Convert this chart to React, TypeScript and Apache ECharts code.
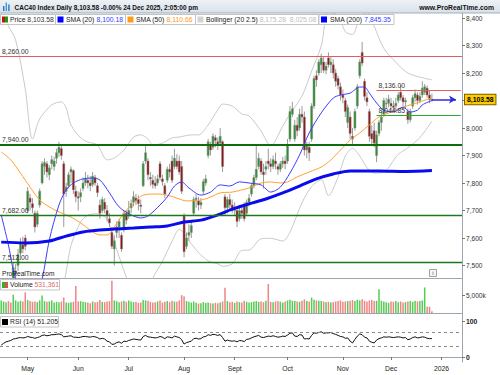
import React, { useEffect, useRef } from 'react';
import * as echarts from 'echarts';

const FONT = '"Liberation Sans", Arial, Helvetica, sans-serif';

// ---------- sessions (Euronext Paris) ----------
const FIRST_SESSION = '2025-04-14';
const SESSION_COUNT = 192; // 180 traded sessions + empty space to the right
const HOLIDAYS = ['2025-04-18', '2025-04-21', '2025-05-01', '2025-12-25', '2025-12-26', '2026-01-01'];

function buildSessions(): string[] {
  const out: string[] = [];
  const d = new Date(FIRST_SESSION + 'T00:00:00Z');
  while (out.length < SESSION_COUNT) {
    const wd = d.getUTCDay();
    const s = d.toISOString().slice(0, 10);
    if (wd !== 0 && wd !== 6 && HOLIDAYS.indexOf(s) < 0) out.push(s);
    d.setUTCDate(d.getUTCDate() + 1);
  }
  return out;
}
const categories = buildSessions();

const monthTickDates = ['2025-05-02', '2025-06-02', '2025-07-01', '2025-08-01', '2025-09-01', '2025-10-01', '2025-11-03', '2025-12-01', '2026-01-02'];
const monthTickLabels = ['May', 'Jun', 'Jul', 'Aug', 'Sept', 'Oct', 'Nov', 'Dec', '2026'];

const priceTicks = [7500, 7600, 7700, 7800, 7900, 8000, 8100, 8200, 8300, 8400];
// 8,100 is covered by the last-price tag in the reference
const priceLabels = [7500, 7600, 7700, 7800, 7900, 8000, 8200, 8300, 8400];
const volumeTicks = [5000];
const rsiTicks = [0, 100];

// ---------- daily candles [open, high, low, close] ----------
const candlesApr = [
  [7240, 7300, 7200, 7273], [7290, 7350, 7270, 7335], [7320, 7360, 7250, 7330], [7340, 7380, 7270, 7286],
  [7300, 7330, 7230, 7276], [7420, 7510, 7400, 7492], [7470, 7505, 7440, 7480], [7500, 7560, 7480, 7540],
  [7545, 7600, 7520, 7585], [7575, 7605, 7545, 7560], [7600, 7612, 7555, 7570],
];
const candlesMay = [
  [7700, 7785, 7690, 7770], [7745, 7760, 7700, 7730], [7725, 7745, 7690, 7710], [7690, 7700, 7620, 7640],
  [7650, 7700, 7640, 7690], [7720, 7780, 7710, 7770], [7800, 7880, 7795, 7870], [7860, 7890, 7830, 7875],
  [7870, 7880, 7820, 7840], [7830, 7865, 7810, 7855], [7870, 7900, 7850, 7885], [7860, 7895, 7845, 7880],
  [7890, 7925, 7870, 7910], [7910, 7950, 7895, 7930], [7925, 7935, 7885, 7900], [7870, 7880, 7640, 7760],
  [7770, 7800, 7750, 7785], [7790, 7840, 7780, 7830], [7840, 7860, 7800, 7850], [7845, 7850, 7760, 7775],
  [7770, 7790, 7730, 7750],
];
const candlesJun = [
  [7750, 7770, 7700, 7745], [7750, 7780, 7730, 7765], [7780, 7820, 7770, 7800], [7800, 7840, 7790, 7815],
  [7810, 7830, 7780, 7800], [7800, 7825, 7770, 7790], [7795, 7840, 7785, 7825], [7820, 7830, 7790, 7800],
  [7790, 7800, 7750, 7765], [7720, 7740, 7670, 7690], [7700, 7750, 7690, 7740], [7730, 7745, 7690, 7705],
  [7700, 7720, 7660, 7680], [7670, 7690, 7640, 7655], [7620, 7640, 7560, 7570], [7560, 7610, 7500, 7590],
  [7620, 7660, 7600, 7640], [7640, 7670, 7600, 7660], [7610, 7620, 7550, 7560], [7630, 7700, 7620, 7690],
  [7690, 7700, 7650, 7665],
];
const candlesJul = [
  [7680, 7735, 7670, 7700], [7710, 7740, 7690, 7725], [7730, 7770, 7715, 7750], [7745, 7760, 7720, 7735],
  [7740, 7755, 7700, 7725], [7720, 7740, 7690, 7715], [7790, 7880, 7785, 7870], [7880, 7940, 7870, 7910],
  [7880, 7890, 7810, 7830], [7820, 7840, 7790, 7815], [7810, 7830, 7780, 7795], [7800, 7825, 7780, 7790],
  [7800, 7830, 7790, 7815], [7870, 7880, 7810, 7820], [7815, 7830, 7790, 7805], [7790, 7800, 7745, 7760],
  [7810, 7860, 7800, 7850], [7850, 7870, 7820, 7840], [7880, 7900, 7800, 7810], [7860, 7925, 7850, 7890],
  [7880, 7905, 7850, 7860], [7880, 7900, 7830, 7840], [7860, 7880, 7760, 7770],
];
const candlesAug = [
  [7680, 7690, 7530, 7550], [7570, 7620, 7560, 7600], [7610, 7650, 7590, 7620], [7620, 7660, 7600, 7645],
  [7690, 7750, 7680, 7740], [7740, 7760, 7710, 7745], [7735, 7750, 7700, 7720], [7720, 7745, 7705, 7730],
  [7770, 7815, 7760, 7805], [7800, 7830, 7790, 7815], [7900, 7960, 7890, 7950], [7940, 7950, 7900, 7920],
  [7930, 7980, 7920, 7970], [7965, 7975, 7930, 7955], [7950, 7965, 7920, 7940], [7945, 8000, 7935, 7970],
  [7950, 7955, 7840, 7860], [7750, 7760, 7680, 7710], [7710, 7750, 7690, 7740], [7740, 7760, 7700, 7720],
  [7720, 7740, 7690, 7700],
];
const candlesSep = [
  [7700, 7730, 7680, 7710], [7700, 7710, 7640, 7660], [7670, 7720, 7660, 7700], [7700, 7715, 7670, 7690],
  [7720, 7730, 7660, 7670], [7690, 7740, 7680, 7730], [7730, 7760, 7715, 7745], [7760, 7800, 7750, 7790],
  [7790, 7830, 7780, 7820], [7820, 7935, 7810, 7850], [7860, 7910, 7850, 7890], [7880, 7890, 7830, 7840],
  [7840, 7870, 7780, 7830], [7850, 7880, 7830, 7860], [7880, 7925, 7850, 7870], [7870, 7890, 7840, 7860],
  [7860, 7900, 7850, 7885], [7880, 7910, 7850, 7870], [7860, 7870, 7830, 7850], [7850, 7880, 7840, 7870],
  [7870, 7895, 7855, 7880], [7880, 7900, 7850, 7870],
];
const candlesOct = [
  [7880, 7960, 7870, 7940], [7960, 8080, 7950, 8060], [8050, 8095, 8040, 8070], [7960, 8030, 7950, 8010],
  [8010, 8040, 7970, 7990], [8000, 8070, 7990, 8050], [8050, 8080, 8020, 8040], [8040, 8060, 7900, 7920],
  [7920, 7950, 7890, 7935], [7930, 7950, 7880, 7910], [7960, 8090, 7950, 8080], [8080, 8190, 8070, 8180],
  [8190, 8210, 8150, 8175], [8200, 8250, 8190, 8240], [8230, 8270, 8200, 8255], [8240, 8260, 8200, 8210],
  [8210, 8240, 8195, 8225], [8255, 8275, 8220, 8230], [8230, 8260, 8200, 8240], [8230, 8250, 8180, 8200],
  [8200, 8215, 8150, 8170], [8180, 8190, 8140, 8155], [8150, 8165, 8100, 8120],
];
const candlesNov = [
  [8120, 8140, 8090, 8110], [8100, 8110, 8040, 8060], [8020, 8085, 8000, 8075], [8040, 8060, 7960, 7980],
  [7970, 8000, 7940, 7960], [8000, 8070, 7990, 8060], [8080, 8160, 8070, 8150], [8190, 8250, 8180, 8240],
  [8275, 8313, 8225, 8236], [8170, 8180, 8100, 8115], [8110, 8130, 8080, 8095], [8060, 8070, 7950, 7970],
  [7980, 8010, 7940, 7960], [7990, 8020, 7930, 7945], [7900, 7990, 7876, 7975], [7980, 8030, 7970, 8020],
  [8020, 8060, 7990, 8040], [8050, 8110, 8040, 8100], [8090, 8110, 8070, 8090], [8090, 8120, 8075, 8105],
];
const candlesDec = [
  [8090, 8110, 8060, 8080], [8080, 8100, 8060, 8075], [8080, 8110, 8060, 8090], [8100, 8130, 8090, 8120],
  [8130, 8156, 8100, 8110], [8110, 8120, 8080, 8095], [8095, 8110, 8070, 8100], [8060, 8070, 8015, 8030],
  [8030, 8070, 8020, 8060], [8080, 8120, 8070, 8110], [8110, 8140, 8095, 8125], [8120, 8130, 8085, 8100],
  [8100, 8130, 8090, 8115], [8120, 8170, 8110, 8145], [8130, 8160, 8120, 8150], [8145, 8155, 8110, 8120],
  [8120, 8135, 8090, 8104], [8104, 8125, 8095, 8103.58],
];
const candles = [
  ...candlesApr, ...candlesMay, ...candlesJun, ...candlesJul, ...candlesAug,
  ...candlesSep, ...candlesOct, ...candlesNov, ...candlesDec,
];

// ---------- volume (thousands) ----------
const volApr = [3600, 3300, 3100, 3400, 3000, 5200, 3600, 3200, 3500, 3300, 5900];
const volMay = [3700, 3400, 3200, 3300, 3100, 3600, 5000, 3400, 3200, 3300, 3600, 3000, 3200, 3100, 3300, 4400, 3000, 2900, 3100, 3200, 7700];
const volJun = [3300, 3400, 3200, 3100, 3000, 2800, 3300, 3100, 3200, 3700, 3200, 3100, 3300, 3400, 9200, 3600, 3400, 3100, 3300, 3500, 3200];
const volJul = [3600, 3300, 3100, 3200, 2900, 3000, 3700, 3600, 3500, 3200, 3000, 3100, 3300, 3600, 3000, 3200, 3400, 3100, 3500, 3300, 3200, 3600, 5100];
const volAug = [4800, 3400, 3200, 3000, 3300, 2900, 2700, 2800, 3100, 2900, 3000, 2800, 2700, 2900, 2800, 3000, 3300, 7200, 3400, 3100, 3200];
const volSep = [2900, 3300, 3100, 3000, 3500, 3200, 3000, 3100, 3300, 3400, 3200, 3300, 3100, 3500, 8300, 3200, 3100, 3300, 3400, 3200, 3000, 3300];
const volOct = [3600, 3800, 3500, 3400, 3300, 3200, 3500, 3900, 3400, 3300, 4400, 3800, 3600, 3500, 3400, 3300, 3100, 3200, 3000, 3100, 3300, 3400, 3600];
const volNov = [3200, 3300, 3400, 3500, 3700, 3400, 3800, 3600, 3900, 3500, 3300, 3600, 3700, 3400, 3500, 6800, 3500, 3300, 3100, 2900];
const volDec = [3300, 3200, 3400, 3100, 3300, 3000, 3100, 3300, 3400, 3200, 3500, 3300, 3400, 3600, 7300, 1800, 1800, 531.361];
const volumes = [...volApr, ...volMay, ...volJun, ...volJul, ...volAug, ...volSep, ...volOct, ...volNov, ...volDec];

// ---------- RSI (14) ----------
const rsiApr = [33, 38, 42, 44, 46, 50, 51, 53, 54, 53, 54];
const rsiMay = [57, 55, 54, 52, 54, 56, 60, 61, 59, 60, 62, 62, 63, 64, 62, 56, 57, 58, 59, 55, 55];
const rsiJun = [54, 55, 57, 57, 56, 55, 57, 56, 54, 50, 52, 50, 44, 42, 35, 36, 40, 42, 38, 44, 43];
const rsiJul = [46, 48, 50, 49, 48, 47, 57, 60, 56, 55, 54, 53, 54, 57, 55, 51, 56, 55, 53, 58, 56, 54, 48];
const rsiAug = [36, 40, 42, 44, 51, 52, 50, 51, 56, 57, 62, 60, 63, 62, 60, 62, 54, 44, 47, 45, 44];
const rsiSep = [45, 42, 46, 45, 43, 49, 50, 53, 56, 58, 60, 55, 54, 56, 58, 57, 59, 57, 55, 56, 58, 57];
const rsiOct = [61, 66, 67, 58, 57, 62, 61, 50, 51, 50, 60, 67, 66, 68, 70, 66, 67, 67, 68, 65, 63, 60, 57];
const rsiNov = [56, 52, 53, 44, 39, 49, 58, 64, 62, 55, 53, 44, 41, 39, 47, 51, 53, 56, 55, 56];
const rsiDec = [55, 54, 55, 56, 55, 53, 54, 48, 50, 54, 56, 53, 54, 56, 55, 52, 51, 51.205];
const rsi = [...rsiApr, ...rsiMay, ...rsiJun, ...rsiJul, ...rsiAug, ...rsiSep, ...rsiOct, ...rsiNov, ...rsiDec];

// ---------- indicator lines: [session index, value] ----------
const sma20 = [[0, 7684], [3, 7575], [5, 7484], [8, 7393], [12, 7338], [15, 7411], [17, 7450], [20, 7593], [24, 7720], [27, 7775], [30, 7800], [34, 7815], [38, 7818], [41, 7811], [45, 7764], [49, 7713], [54, 7684], [58, 7673], [61, 7680], [66, 7720], [69, 7749], [72, 7789], [75, 7804], [78, 7782], [83, 7756], [87, 7767], [91, 7793], [95, 7789], [99, 7804], [103, 7800], [108, 7793], [112, 7767], [116, 7785], [120, 7836], [124, 7902], [128, 7982], [133, 8055], [138, 8109], [141, 8120], [145, 8127], [149, 8149], [151, 8149], [153, 8127], [156, 8091], [159, 8065], [163, 8058], [167, 8076], [170, 8058], [173, 8065], [175, 8084], [179, 8100.18]];
const sma50 = [[0, 7913], [4, 7884], [8, 7836], [12, 7785], [16, 7738], [20, 7713], [24, 7695], [29, 7676], [33, 7655], [37, 7629], [41, 7611], [44, 7611], [47, 7640], [51, 7691], [55, 7727], [59, 7756], [65, 7760], [69, 7756], [73, 7745], [77, 7735], [83, 7738], [87, 7749], [91, 7764], [96, 7767], [103, 7782], [108, 7800], [112, 7804], [116, 7800], [119, 7804], [123, 7822], [128, 7840], [133, 7858], [137, 7884], [141, 7920], [145, 7956], [149, 7982], [153, 8011], [157, 8040], [162, 8058], [166, 8073], [170, 8084], [174, 8095], [179, 8110.66]];
const sma200 = [[0, 7585], [10, 7582], [20, 7589], [27, 7607], [34, 7622], [41, 7629], [55, 7636], [62, 7640], [69, 7644], [76, 7658], [83, 7665], [90, 7684], [96, 7705], [103, 7724], [110, 7742], [117, 7764], [124, 7789], [131, 7815], [138, 7833], [145, 7844], [157, 7844], [168, 7842], [179, 7845.35]];
const bbUpper = [[0, 8420], [3, 8370], [6, 8320], [10, 8142], [13, 7960], [16, 8033], [21, 8084], [25, 8095], [27, 8073], [29, 8011], [33, 7964], [36, 7949], [40, 7938], [44, 7884], [47, 7891], [51, 7920], [55, 7967], [58, 7975], [61, 7960], [63, 7938], [67, 7945], [71, 7964], [74, 7967], [79, 7975], [82, 7975], [86, 8011], [90, 8066], [92, 8087], [96, 8080], [100, 8051], [103, 8044], [108, 7989], [112, 7935], [117, 8007], [120, 8051], [125, 8116], [129, 8207], [133, 8298], [136, 8420], [140, 8410], [143, 8350], [146, 8340], [149, 8400], [152, 8420], [155, 8370], [159, 8290], [165, 8230], [169, 8200], [174, 8185], [179, 8175.28]];
const bbLower = [[0, 6948], [3, 6780], [6, 6588], [10, 6590], [13, 6764], [16, 6827], [21, 7166], [25, 7381], [27, 7477], [29, 7573], [33, 7658], [36, 7683], [40, 7688], [44, 7668], [47, 7585], [51, 7482], [55, 7395], [58, 7371], [61, 7400], [63, 7454], [67, 7515], [71, 7588], [74, 7631], [79, 7579], [82, 7547], [86, 7517], [90, 7506], [92, 7497], [96, 7506], [100, 7555], [103, 7556], [108, 7597], [112, 7599], [117, 7589], [120, 7621], [125, 7728], [129, 7787], [133, 7812], [136, 7754], [140, 7822], [143, 7898], [146, 7926], [149, 7898], [152, 7856], [155, 7836], [159, 7840], [165, 7904], [169, 7928], [174, 7965], [179, 8025.08]];

// ---------- drawn levels ----------
const fullLevels = [
  { value: 8260, text: '8,260.00', color: '#e35d5d', width: 1 },
  { value: 7940, text: '7,940.00', color: '#0e6b0e', width: 2 },
  { value: 7682, text: '7,682.00', color: '#1d781d', width: 1.3 },
  { value: 7512, text: '7,512.00', color: '#1d781d', width: 1.3 },
];
const shortLevels = [
  { value: 8136, text: '8,136.00', color: '#e35d5d', from: '2025-11-21' },
  { value: 8044.85, text: '8,044.85', color: '#2ea82e', from: '2025-11-21' },
];
const LAST_DATE = '2025-12-24';
const lastPrice = 8103.58;
const lastSma200 = 7845.35;
const lastVolume = 531.361;
const lastRsi = 51.205;

function buildOption() {
  const lastCat = categories[categories.length - 1];
  const arrowEnd = categories[categories.length - 3];
  const tickIdx = new Set(monthTickDates.map((d) => categories.indexOf(d)));
  const labelOf: Record<string, string> = {};
  monthTickDates.forEach((d, i) => (labelOf[d] = monthTickLabels[i]));

  const axisLineStyle = { color: '#9ea6ad', width: 1 };
  const xAxes = [0, 1, 2].map((gi) => ({
    type: 'category',
    gridIndex: gi,
    data: categories,
    boundaryGap: true,
    axisLine: { show: true, lineStyle: axisLineStyle },
    axisTick: gi === 2
      ? { show: true, alignWithLabel: true, length: 3, interval: (i: number) => tickIdx.has(i), lineStyle: { color: '#777' } }
      : { show: false },
    axisLabel: gi === 2
      ? {
          show: true, interval: (i: number) => tickIdx.has(i), formatter: (v: string) => labelOf[v] || '',
          fontSize: 6.8, color: '#222', margin: 3, fontFamily: FONT,
        }
      : { show: false },
    splitLine: { show: false },
  }));

  const yCommon = {
    type: 'value', position: 'right',
    axisLine: { show: true, lineStyle: axisLineStyle },
    splitLine: { show: false },
  };
  const yAxes = [
    {
      ...yCommon, gridIndex: 0, min: 8400 - 260 / 0.275, max: 8400 + 5 / 0.275,
      axisTick: { show: true, length: 3, customValues: priceTicks, lineStyle: { color: '#777' } },
      axisLabel: { customValues: priceLabels, formatter: (v: number) => v.toLocaleString('en-US'), fontSize: 6.6, color: '#333', margin: 4, fontFamily: FONT },
    },
    {
      ...yCommon, gridIndex: 1, min: 0, max: 10000,
      axisTick: { show: true, length: 3, customValues: volumeTicks, lineStyle: { color: '#777' } },
      axisLabel: { customValues: volumeTicks, formatter: (v: number) => v.toLocaleString('en-US') + 'k', fontSize: 6.6, color: '#333', margin: 4, fontFamily: FONT },
    },
    {
      ...yCommon, gridIndex: 2, min: -5 / 0.36, max: 100 + 8 / 0.36,
      axisTick: { show: true, length: 3, customValues: rsiTicks, lineStyle: { color: '#777' } },
      axisLabel: { customValues: rsiTicks, formatter: (v: number) => String(v), fontSize: 6.8, fontWeight: 'bold', color: '#222', margin: 4, fontFamily: FONT },
    },
  ];

  const tagLabel = (text: string, color: string, bg: string, border: string, bold = false, distance = 4) => ({
    show: true, position: 'end', distance, formatter: text, color, fontSize: 6.8, fontFamily: FONT,
    fontWeight: bold ? 'bold' : 'normal', backgroundColor: bg, borderColor: border, borderWidth: 1, padding: [1.5, 2, 1, 2],
  });
  const hidden = { width: 0, opacity: 0 };
  const levelLabel = (text: string) => ({
    show: true, position: 'insideStartTop', formatter: text, color: '#333', fontSize: 6.8, fontFamily: FONT, distance: [2, 1.5],
  });

  const priceMarks: any[] = [
    ...fullLevels.map((l) => ({
      yAxis: l.value, lineStyle: { color: l.color, width: l.width, type: 'solid' }, label: levelLabel(l.text),
    })),
    ...shortLevels.map((l) => [
      { xAxis: l.from, yAxis: l.value, lineStyle: { color: l.color, width: 1, type: 'solid' }, label: levelLabel(l.text) },
      { xAxis: lastCat, yAxis: l.value },
    ]),
    [
      { xAxis: LAST_DATE, yAxis: lastPrice, symbol: 'none', lineStyle: { color: '#2b2be0', width: 1.5, type: 'solid' },
        label: tagLabel('8,103.58', '#000', '#ffcc00', '#7a6200', true, 9) },
      { xAxis: arrowEnd, yAxis: lastPrice, symbol: 'arrow', symbolSize: [6, 7] },
    ],
    [
      { xAxis: LAST_DATE, yAxis: lastSma200, lineStyle: hidden, label: tagLabel('7,845.35', '#3a3aff', '#fff', '#9aa4b5') },
      { xAxis: lastCat, yAxis: lastSma200 },
    ],
  ];

  const upColor = '#2f8f2f';
  const downColor = '#8c1616';

  const series: any[] = [
    { type: 'line', name: 'BB up', xAxisIndex: 0, yAxisIndex: 0, data: bbUpper, symbol: 'none', smooth: 0.3, lineStyle: { color: '#c9c9c9', width: 1 }, silent: true, z: 1 },
    { type: 'line', name: 'BB low', xAxisIndex: 0, yAxisIndex: 0, data: bbLower, symbol: 'none', smooth: 0.3, lineStyle: { color: '#c9c9c9', width: 1 }, silent: true, z: 1 },
    {
      type: 'custom', name: 'Price', xAxisIndex: 0, yAxisIndex: 0, clip: true, z: 2,
      data: candles.map((c, i) => [i, c[0], c[1], c[2], c[3]]),
      encode: { x: 0, y: [1, 2, 3, 4] },
      renderItem: (params: any, api: any) => {
        const i = api.value(0);
        const o = api.value(1), h = api.value(2), l = api.value(3), c = api.value(4);
        const pO = api.coord([i, o]);
        const pC = api.coord([i, c]);
        const pH = api.coord([i, h]);
        const pL = api.coord([i, l]);
        const w = api.size([1, 0])[0] * 0.85;
        const x = pO[0];
        const top = Math.min(pO[1], pC[1]);
        const bot = Math.max(pO[1], pC[1]);
        return {
          type: 'group',
          children: [
            { type: 'line', shape: { x1: x, y1: pH[1], x2: x, y2: pL[1] }, style: { stroke: '#9a9a9a', lineWidth: 1 } },
            { type: 'rect', shape: { x: x - w / 2, y: top, width: w, height: Math.max(bot - top, 0.8) },
              style: { fill: c >= o ? upColor : downColor, stroke: '#8f8f8f', lineWidth: 0.5 } },
          ],
        };
      },
    },
    { type: 'line', name: 'SMA50', xAxisIndex: 0, yAxisIndex: 0, data: sma50, symbol: 'none', smooth: 0.3, lineStyle: { color: '#ffa033', width: 1 }, silent: true, z: 3 },
    { type: 'line', name: 'SMA20', xAxisIndex: 0, yAxisIndex: 0, data: sma20, symbol: 'none', smooth: 0.3, lineStyle: { color: '#3c3cff', width: 1 }, silent: true, z: 3 },
    { type: 'line', name: 'SMA200', xAxisIndex: 0, yAxisIndex: 0, data: sma200, symbol: 'none', smooth: 0.3, lineStyle: { color: '#0a0aee', width: 3 }, silent: true, z: 3 },
    {
      type: 'line', name: 'levels', xAxisIndex: 0, yAxisIndex: 0, data: [[179, lastPrice]], symbol: 'none',
      lineStyle: { opacity: 0 }, clip: false, silent: true, z: 4,
      markLine: { silent: true, symbol: ['none', 'none'], animation: false, data: priceMarks },
    },
    {
      type: 'bar', name: 'Volume', xAxisIndex: 1, yAxisIndex: 1, barWidth: 1.5, silent: true,
      data: volumes.map((v, i) => ({ value: v, itemStyle: { color: candles[i][3] >= candles[i][0] ? '#55cc55' : '#ef8585' } })),
    },
    {
      type: 'line', name: 'volTag', xAxisIndex: 1, yAxisIndex: 1, data: [[179, lastVolume]], symbol: 'none',
      lineStyle: { opacity: 0 }, clip: false, silent: true,
      markLine: {
        silent: true, symbol: ['none', 'none'], animation: false,
        data: [[
          { xAxis: LAST_DATE, yAxis: lastVolume, lineStyle: hidden, label: tagLabel('531,361', '#e06a6a', '#fff', '#9aa4b5') },
          { xAxis: lastCat, yAxis: lastVolume },
        ]],
      },
    },
    {
      type: 'line', name: 'RSI', xAxisIndex: 2, yAxisIndex: 2, data: rsi, symbol: 'none', clip: false, silent: true,
      lineStyle: { color: '#111', width: 1 },
      markLine: {
        silent: true, symbol: ['none', 'none'], animation: false,
        data: [
          { yAxis: 70, lineStyle: { color: '#8a8a8a', width: 1, type: [3, 3] }, label: { show: false } },
          { yAxis: 30, lineStyle: { color: '#8a8a8a', width: 1, type: [3, 3] }, label: { show: false } },
          [
            { xAxis: LAST_DATE, yAxis: lastRsi, lineStyle: hidden, label: tagLabel('51.205', '#333', '#fff', '#9aa4b5') },
            { xAxis: lastCat, yAxis: lastRsi },
          ],
        ],
      },
    },
  ];

  // ---------- header, legends, watermark ----------
  const fs = 6.8;
  const legendBox = (x: number, y: number, w: number, h: number) => ({
    type: 'rect', shape: { x, y, width: w, height: h }, style: { fill: '#fff', stroke: '#c4c4c4', lineWidth: 1 },
  });
  const icon = (x: number, y: number, colors: string[]) => colors.map((c, k) => ({
    type: 'rect', shape: { x: x + k * (6 / colors.length), y, width: 6 / colors.length, height: 6 },
    style: { fill: c, stroke: 'none' },
  }));
  const richText = (x: number, y: number, a: string, b: string, bColor: string) => ({
    type: 'text', x, y,
    style: {
      text: `{a|${a}} {b|${b}}`, verticalAlign: 'middle', align: 'left', fontSize: fs, fontFamily: FONT,
      rich: { a: { fill: '#222', fontSize: fs, fontFamily: FONT }, b: { fill: bColor, fontSize: fs, fontFamily: FONT } },
    },
  });

  const elements: any[] = [
    {
      type: 'rect', shape: { x: 0, y: 0, width: 500, height: 13 },
      style: { fill: new echarts.graphic.LinearGradient(0, 0, 0, 1, [{ offset: 0, color: '#eef2f6' }, { offset: 1, color: '#d8e0e8' }]) },
    },
    { type: 'line', shape: { x1: 0, y1: 13, x2: 500, y2: 13 }, style: { stroke: '#9fb0bf', lineWidth: 1 } },
    { type: 'rect', shape: { x: 3, y: 6, width: 1.4, height: 5 }, style: { fill: '#2a77c0' } },
    { type: 'rect', shape: { x: 5.6, y: 2.5, width: 1.4, height: 8.5 }, style: { fill: '#3b9be0' } },
    { type: 'rect', shape: { x: 8.2, y: 4.5, width: 1.4, height: 6.5 }, style: { fill: '#2a77c0' } },
    {
      type: 'text', x: 14.5, y: 7,
      style: { text: 'CAC40 Index Daily 8,103.58 -0.00% 24 Dec 2025, 2:05:00 pm', fill: '#111', fontSize: 6.5, fontWeight: 'bold', fontFamily: FONT, verticalAlign: 'middle' },
    },
    {
      type: 'text', x: 494, y: 7,
      style: { text: 'www.ProRealTime.com', fill: '#111', fontSize: 6.8, fontWeight: 'bold', fontFamily: FONT, align: 'right', verticalAlign: 'middle' },
    },
    // main legend row
    legendBox(0.5, 14.5, 55, 10),
    ...icon(2, 16.5, ['#cc1010', '#10a010']),
    richText(10, 19.8, 'Price', '8,103.58', '#333'),
    legendBox(55.5, 14.5, 70, 10),
    ...icon(57.5, 16.5, ['#0000ff']),
    richText(66, 19.8, 'SMA (20)', '8,100.18', '#3a3aff'),
    legendBox(125.5, 14.5, 70, 10),
    ...icon(127.5, 16.5, ['#ff9a1a']),
    richText(136, 19.8, 'SMA (50)', '8,110.66', '#ff9a1a'),
    legendBox(195.5, 14.5, 123, 10),
    ...icon(197.5, 16.5, ['#d2d2d2']),
    richText(206, 19.8, 'Bollinger (20 2.5)', '8,175.28  8,025.08', '#bdbdbd'),
    legendBox(319, 14.5, 75, 10),
    ...icon(321, 16.5, ['#0000ff']),
    richText(330, 19.8, 'SMA (200)', '7,845.35', '#3a3aff'),
    // watermark and info icon
    {
      type: 'text', x: 2, y: 273.5,
      style: { text: 'ProRealTime.com', fill: '#222', fontSize: 6.6, fontFamily: FONT, verticalAlign: 'middle' },
    },
    { type: 'rect', shape: { x: 429.5, y: 269.5, width: 7, height: 7 }, style: { fill: '#f6f6f6', stroke: '#a0a0a0', lineWidth: 1 } },
    { type: 'text', x: 433, y: 273.2, style: { text: 'i', fill: '#555', fontSize: 6, fontFamily: FONT, align: 'center', verticalAlign: 'middle' } },
    // volume legend
    legendBox(0.5, 279.5, 59, 10.5),
    ...icon(2, 282, ['#22bb22', '#e05050']),
    richText(10, 284.9, 'Volume', '531,361', '#e06a6a'),
    // rsi legend
    legendBox(0.5, 316.5, 58, 10.5),
    ...icon(2, 319, ['#000000']),
    richText(10, 321.9, 'RSI (14)', '51.205', '#222'),
  ].map((e) => ({ ...e, z: 100 }));

  const gridBase = { left: 0, right: 38, containLabel: false, outerBoundsMode: 'none' };
  return {
    animation: false,
    backgroundColor: '#ffffff',
    textStyle: { fontFamily: FONT },
    grid: [
      { ...gridBase, top: 13, height: 265 },
      { ...gridBase, top: 278, height: 35 },
      { ...gridBase, top: 313, height: 49 },
    ],
    xAxis: xAxes,
    yAxis: yAxes,
    series,
    graphic: { elements },
  };
}

export default function App() {
  const ref = useRef<HTMLDivElement>(null);
  useEffect(() => {
    if (!ref.current) return;
    const chart = echarts.init(ref.current, null, { renderer: 'svg' });
    chart.setOption(buildOption() as any);
    return () => chart.dispose();
  }, []);
  return <div ref={ref} style={{ position: 'absolute', left: 0, top: 0, width: 500, height: 375 }} />;
}
